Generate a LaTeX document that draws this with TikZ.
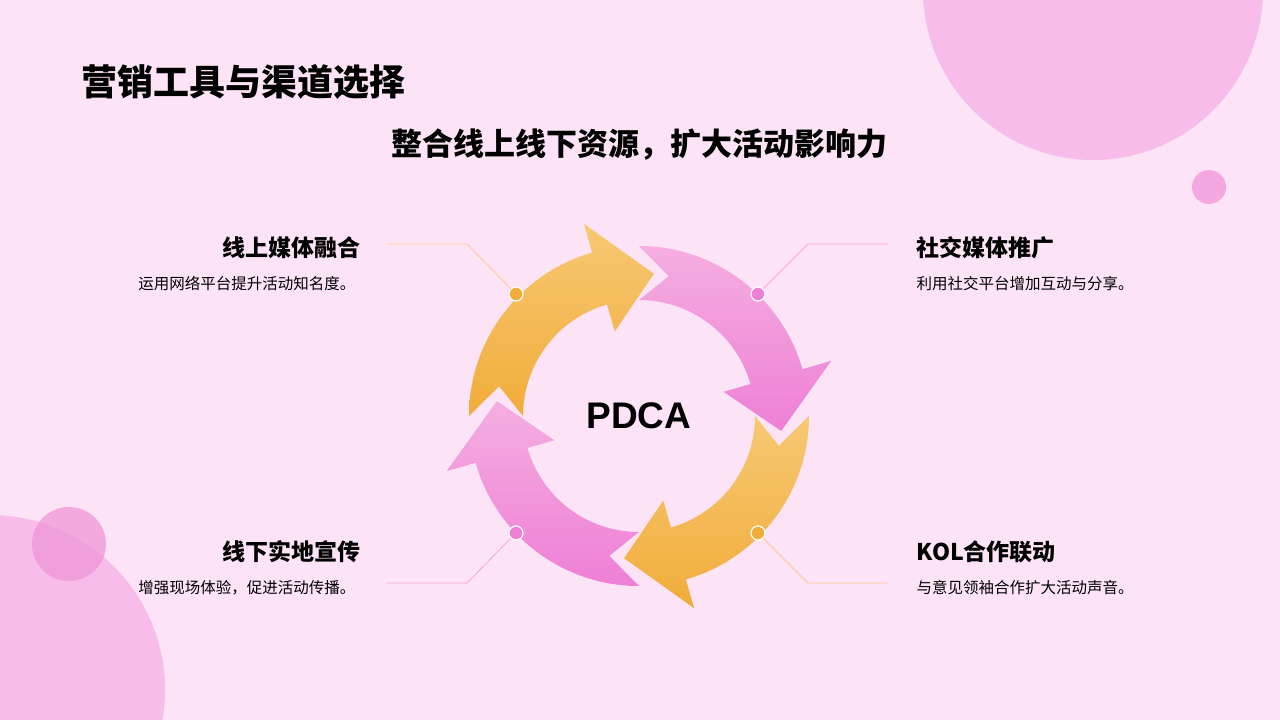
\documentclass[tikz,border=0pt]{standalone}
\usepackage{fontspec}
\setmainfont{Noto Sans CJK SC}
\newfontfamily\arialf{Liberation Sans}
\begin{document}
\begin{tikzpicture}[x=1pt,y=-1pt,
  ttl/.style={font=\bfseries\fontsize{23}{27}\selectfont},
  dsc/.style={font=\fontsize{15.5}{18}\selectfont},
  dot/.style={circle,draw=white,line width=1.2pt,minimum size=14pt,inner sep=0pt},
  lnO/.style={draw=orange!45!white,line width=0.8pt},
  lnP/.style={draw=magenta!35!white,line width=0.8pt}]
\definecolor{bg}{HTML}{FCE4F6}
\definecolor{oL}{HTML}{F7C873}
\definecolor{oD}{HTML}{F1AC3A}
\definecolor{pL}{HTML}{F5AEE0}
\definecolor{pD}{HTML}{EE7FD6}
\useasboundingbox (0,0) rectangle (1280,720);
\fill[bg] (0,0) rectangle (1280,720);
\begin{scope}
\clip (0,0) rectangle (1280,720);
\fill[color={rgb,255:red,247;green,188;blue,234}] (1093,-10) circle (170);
\fill[color={rgb,255:red,245;green,168;blue,223}] (1209,187) circle (17);
\fill[color={rgb,255:red,247;green,188;blue,234}] (-10,690) circle (175);
\fill[color={rgb,255:red,240;green,150;blue,215},opacity=0.75] (69,544) circle (37);
\end{scope}
\node[anchor=west,font=\bfseries\fontsize{36}{42}\selectfont] (title) at (78,82) {营销工具与渠道选择};
\node[font=\bfseries\fontsize{31}{36}\selectfont] (sub) at (639,145) {整合线上线下资源，扩大活动影响力};
% arrows
\foreach \s/\ca/\cb in {180/oL/oD,90/pL/pD,0/oL/oD,-90/pL/pD}{
  \pgfmathsetmacro\aN{\s-12}\pgfmathsetmacro\aB{\s-74}\pgfmathsetmacro\aT{\s-96}
  \shade[top color=\ca,bottom color=\cb,shift={(639,416)}]
    (-\s:170) arc[start angle=-\s,end angle=-\aB,radius=170] -- (-\aB:200) -- (-\aT:143) -- (-\aB:88)
    -- (-\aB:116) arc[start angle=-\aB,end angle=-\s,radius=116] -- (-\aN:143) -- cycle;
}
\node[font=\arialf\bfseries\fontsize{37}{42}\selectfont] (pdca) at (639,416) {PDCA};
% dots and lines
\coordinate (a1) at (387,244); \coordinate (a2) at (467,244);
\coordinate (b1) at (888,244); \coordinate (b2) at (808,244);
\coordinate (c1) at (387,583); \coordinate (c2) at (467,583);
\coordinate (e1) at (888,583); \coordinate (e2) at (808,583);
\node[dot,fill=oD] (d1) at (516,294) {};
\node[dot,fill=pD] (d2) at (758,294) {};
\node[dot,fill=pD] (d3) at (516,533) {};
\node[dot,fill=oD] (d4) at (758,533) {};
\draw[lnO] (d1) -- (a2) -- (a1);
\draw[lnP] (d2) -- (b2) -- (b1);
\draw[lnP] (d3) -- (c2) -- (c1);
\draw[lnO] (d4) -- (e2) -- (e1);
% texts
\node[ttl,anchor=east] (t1) at (364,248) {线上媒体融合};
\node[dsc,anchor=east] (s1) at (359,284) {运用网络平台提升活动知名度。};
\node[ttl,anchor=west] (t2) at (913,248) {社交媒体推广};
\node[dsc,anchor=west] (s2) at (913,284) {利用社交平台增加互动与分享。};
\node[ttl,anchor=east] (t3) at (364,552) {线下实地宣传};
\node[dsc,anchor=east] (s3) at (359,588) {增强现场体验，促进活动传播。};
\node[ttl,anchor=west] (t4) at (913,552) {KOL合作联动};
\node[dsc,anchor=west] (s4) at (913,588) {与意见领袖合作扩大活动声音。};
\end{tikzpicture}
\end{document}
